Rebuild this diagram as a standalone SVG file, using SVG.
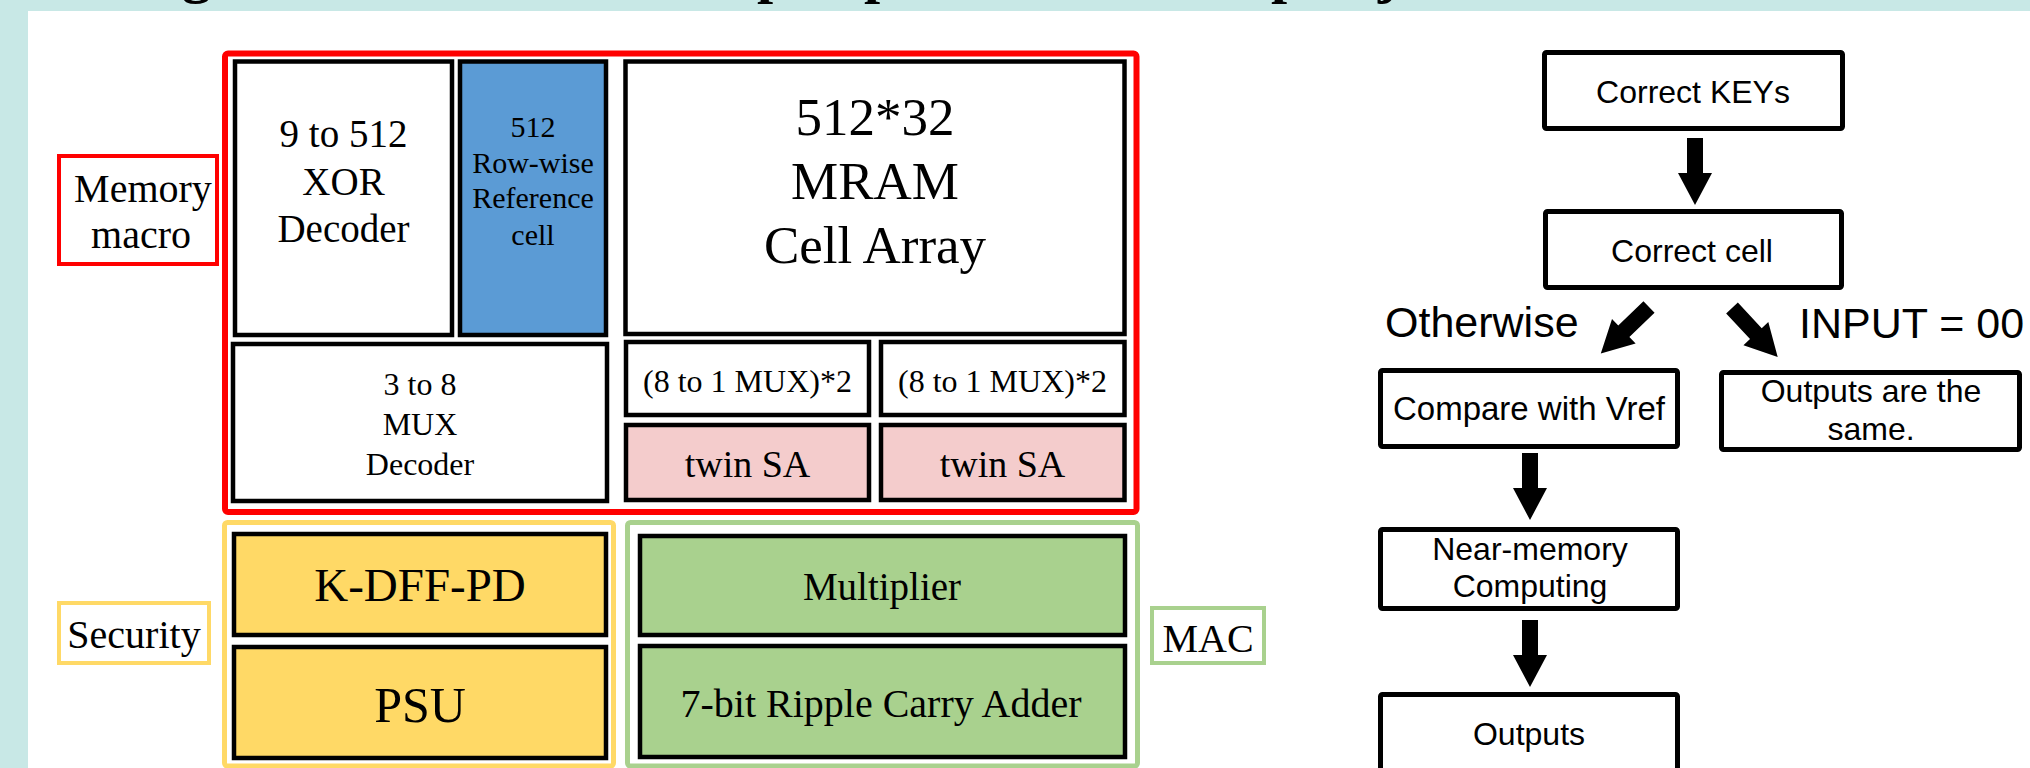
<svg xmlns="http://www.w3.org/2000/svg" width="2030" height="768" viewBox="0 0 2030 768">
<defs>
<style>
.bg{fill:#c8e8e6}
.blk{stroke:#000;stroke-width:4.5;stroke-linejoin:miter}
.w{fill:#fff}
.blue{fill:#5b9bd5}
.pink{fill:#f4cccc}
.yel{fill:#ffd966}
.grn{fill:#a9d18e}
.red{fill:none;stroke:#ff0000;stroke-width:6}
.redl{fill:#fff;stroke:#ff0000;stroke-width:4}
.yell{fill:#fff;stroke:#ffd966;stroke-width:4}
.grnl{fill:#fff;stroke:#a9d18e;stroke-width:4}
.yo{fill:none;stroke:#ffd966;stroke-width:5}
.go{fill:none;stroke:#a9d18e;stroke-width:5}
.fb{fill:#fff;stroke:#000;stroke-width:5}
.s{font-family:"Liberation Serif","Times New Roman",serif;fill:#000;text-anchor:middle}
.a{font-family:"Liberation Sans",Arial,sans-serif;fill:#000;text-anchor:middle;font-size:32px}
.big{font-size:43px;text-anchor:start}
.t{font-family:"Liberation Serif","Times New Roman",serif;font-weight:bold;font-size:58px;fill:#000}
.arr{fill:#000}
</style>
<polygon id="blockArrow" points="-8,0 8,0 8,35 17,35 0,67 -17,35 -8,35"/>
</defs>

<rect x="0" y="0" width="2030" height="768" fill="#fff"/>
<rect class="bg" x="0" y="0" width="2030" height="11"/>
<rect class="bg" x="0" y="0" width="28" height="768"/>
<g id="title-fragments">
<text class="t" x="182" y="-8">g</text>
<text class="t" x="757" y="-8">p</text>
<text class="t" x="864" y="-8">p</text>
<text class="t" x="1271" y="-8">p</text>
<text class="t" x="1378" y="-8">j</text>
</g>

<!-- Memory macro -->
<g id="memory-macro">
<rect class="red" x="225" y="53.5" width="911.5" height="458.5" rx="3"/>
</g>
<g id="memory-macro-label">
<rect class="redl" x="59" y="156" width="158" height="108"/>
<text class="s" x="143" y="202" font-size="40">Memory</text>
<text class="s" x="141" y="248" font-size="40">macro</text>
</g>
<g id="xor-decoder">
<rect class="blk w" x="235" y="61.5" width="217" height="273.5"/>
<text class="s" x="343.5" y="147" font-size="39">9 to 512</text>
<text class="s" x="343.5" y="195" font-size="39">XOR</text>
<text class="s" x="343.5" y="242" font-size="39">Decoder</text>
</g>
<g id="reference-cell">
<rect class="blk blue" x="460" y="61.5" width="146" height="273.5"/>
<text class="s" x="533" y="137" font-size="30">512</text>
<text class="s" x="533" y="173" font-size="30">Row-wise</text>
<text class="s" x="533" y="208" font-size="30">Reference</text>
<text class="s" x="533" y="245" font-size="30">cell</text>
</g>
<g id="mux-decoder">
<rect class="blk w" x="233" y="344" width="374" height="157"/>
<text class="s" x="420" y="395" font-size="32">3 to 8</text>
<text class="s" x="420" y="435" font-size="32">MUX</text>
<text class="s" x="420" y="475" font-size="32">Decoder</text>
</g>
<g id="mram-array">
<rect class="blk w" x="625.5" y="61.5" width="499" height="272.5"/>
<text class="s" x="875" y="135" font-size="53">512*32</text>
<text class="s" x="875" y="199" font-size="53">MRAM</text>
<text class="s" x="875" y="263" font-size="53">Cell Array</text>
</g>
<g id="mux-1">
<rect class="blk w" x="626" y="342" width="243" height="73"/>
<text class="s" x="747.5" y="392" font-size="32">(8 to 1 MUX)*2</text>
</g>
<g id="mux-2">
<rect class="blk w" x="881" y="342" width="243.5" height="73"/>
<text class="s" x="1002.5" y="392" font-size="32">(8 to 1 MUX)*2</text>
</g>
<g id="twin-sa-1">
<rect class="blk pink" x="626" y="425" width="243" height="75"/>
<text class="s" x="747.5" y="477" font-size="38">twin SA</text>
</g>
<g id="twin-sa-2">
<rect class="blk pink" x="881" y="425" width="243.5" height="75"/>
<text class="s" x="1002.5" y="477" font-size="38">twin SA</text>
</g>

<!-- Security -->
<g id="security">
<rect class="yo" x="224.5" y="522.5" width="389" height="243.5" rx="3"/>
</g>
<g id="security-label">
<rect class="yell" x="59" y="603" width="150" height="60"/>
<text class="s" x="134" y="648" font-size="40">Security</text>
</g>
<g id="k-dff-pd">
<rect class="blk yel" x="234" y="534" width="372" height="101"/>
<text class="s" x="420" y="601" font-size="47">K-DFF-PD</text>
</g>
<g id="psu">
<rect class="blk yel" x="234" y="647" width="372" height="111"/>
<text class="s" x="420" y="722" font-size="50">PSU</text>
</g>

<!-- MAC -->
<g id="mac">
<rect class="go" x="627.5" y="522.5" width="510" height="243.5" rx="3"/>
</g>
<g id="mac-label">
<rect class="grnl" x="1152" y="608" width="112" height="55"/>
<text class="s" x="1208" y="652" font-size="40">MAC</text>
</g>
<g id="multiplier">
<rect class="blk grn" x="640" y="536" width="485" height="99"/>
<text class="s" x="882" y="600" font-size="39">Multiplier</text>
</g>
<g id="adder">
<rect class="blk grn" x="640" y="646" width="485" height="111"/>
<text class="s" x="881" y="717" font-size="40">7-bit Ripple Carry Adder</text>
</g>

<!-- Flowchart -->
<g id="correct-keys">
<rect class="fb" x="1544.5" y="52.5" width="298" height="76" rx="2"/>
<text class="a" x="1693" y="103">Correct KEYs</text>
</g>
<g id="correct-cell">
<rect class="fb" x="1545.5" y="211.5" width="296" height="76" rx="2"/>
<text class="a" x="1692" y="262">Correct cell</text>
</g>
<g id="compare-vref">
<rect class="fb" x="1380.5" y="370.5" width="297" height="76" rx="2"/>
<text class="a" x="1529" y="420" style="font-size:33px">Compare with Vref</text>
</g>
<g id="outputs-same">
<rect class="fb" x="1721.5" y="372.5" width="298" height="77" rx="2"/>
<text class="a" x="1871" y="402">Outputs are the</text>
<text class="a" x="1871" y="440">same.</text>
</g>
<g id="near-memory">
<rect class="fb" x="1380.5" y="529.5" width="297" height="79" rx="2"/>
<text class="a" x="1530" y="560">Near-memory</text>
<text class="a" x="1530" y="597">Computing</text>
</g>
<g id="outputs">
<rect class="fb" x="1380.5" y="694.5" width="297" height="100" rx="2"/>
<text class="a" x="1529" y="745">Outputs</text>
</g>

<g id="connectors">
<use href="#blockArrow" class="arr" transform="translate(1695,138)"/>
<use href="#blockArrow" class="arr" transform="translate(1649,307) rotate(46)"/>
<use href="#blockArrow" class="arr" transform="translate(1732,308) rotate(-43)"/>
<use href="#blockArrow" class="arr" transform="translate(1530,453)"/>
<use href="#blockArrow" class="arr" transform="translate(1530,620)"/>
<text class="a big" x="1385" y="337">Otherwise</text>
<text class="a big" x="1799" y="338">INPUT = 00</text>
</g>
</svg>
